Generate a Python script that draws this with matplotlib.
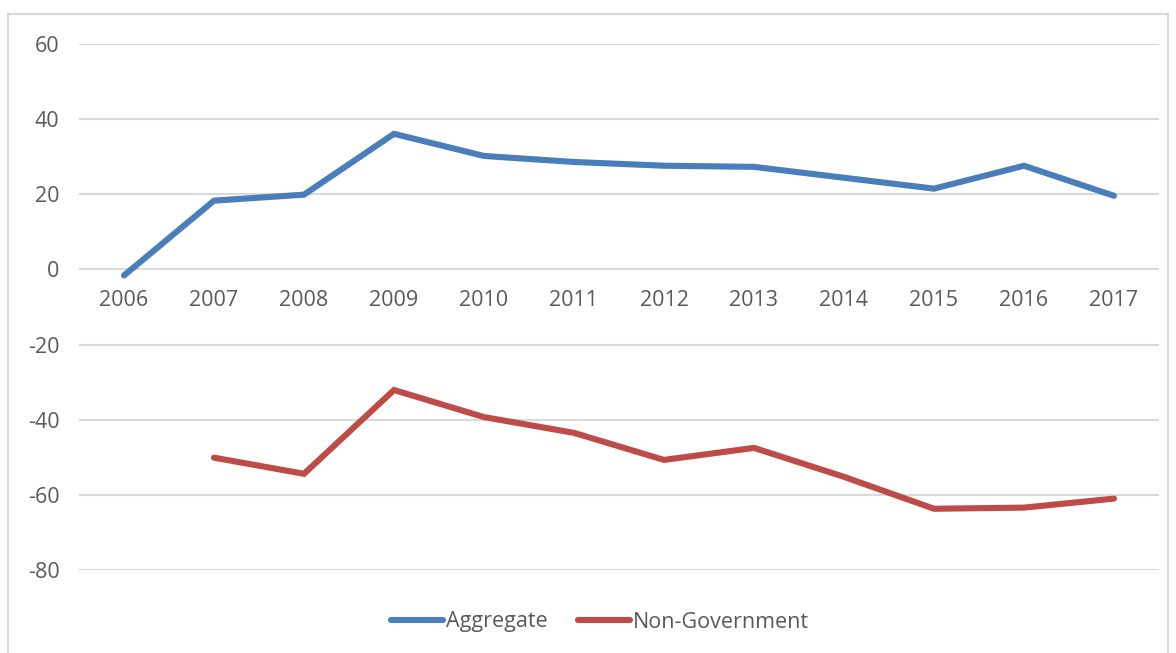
import matplotlib.pyplot as plt
from matplotlib.patches import Rectangle

years = ['2006', '2007', '2008', '2009', '2010', '2011',
         '2012', '2013', '2014', '2015', '2016', '2017']
aggregate = [-1.6, 18.3, 19.9, 36.1, 30.2, 28.6, 27.6, 27.3, 24.4, 21.5, 27.6, 19.6]
non_gov = [None, -50.1, -54.4, -32.1, -39.3, -43.5, -50.7, -47.5, -55.2, -63.7, -63.4, -61.0]
y_ticks = [-80, -60, -40, -20, 0, 20, 40, 60]

plt.rcParams['font.family'] = ['Open Sans', 'DejaVu Sans']
txt = '#595959'
fs = 15.5

fig = plt.figure(figsize=(11.76, 6.53), dpi=100)
ax = fig.add_axes([79 / 1176, 83 / 653, 1080 / 1176, 526 / 653])

x = list(range(len(years)))
ax.plot(x, aggregate, color='#4A7EBB', lw=4.4, solid_capstyle='round',
        solid_joinstyle='miter', label='Aggregate')
xn = [i for i, v in zip(x, non_gov) if v is not None]
yn = [v for v in non_gov if v is not None]
ax.plot(xn, yn, color='#BE4B48', lw=4.4, solid_capstyle='round',
        solid_joinstyle='miter', label='Non-Government')

ax.set_xlim(-0.5, len(years) - 0.5)
ax.set_ylim(-80, 60)
ax.set_yticks(y_ticks)
ax.set_yticklabels([str(t) for t in y_ticks], color=txt, fontsize=fs)
ax.set_xticks([])
ax.tick_params(axis='y', length=0, pad=14)
ax.grid(axis='y', color='#D9D9D9', lw=1.5)
ax.set_axisbelow(True)
for s in ax.spines.values():
    s.set_visible(False)

# category labels sit at the zero line
for i, yr in enumerate(years):
    ax.annotate(yr, (i, 0), xytext=(0, -15), textcoords='offset points',
                ha='center', va='top', color=txt, fontsize=fs)

fig.legend(loc='center', bbox_to_anchor=(600 / 1176, 1 - 622 / 653), ncol=2,
           frameon=False, fontsize=fs, handlelength=2.4, handletextpad=0.15,
           columnspacing=1.4, labelcolor=txt)

fig.patches.append(Rectangle((8 / 1176, -0.01), 1160 / 1176, 1 - 14 / 653 + 0.01,
                             transform=fig.transFigure, fill=False,
                             edgecolor='#D9D9D9', lw=1.5))

fig.savefig('out.png', dpi=100)
